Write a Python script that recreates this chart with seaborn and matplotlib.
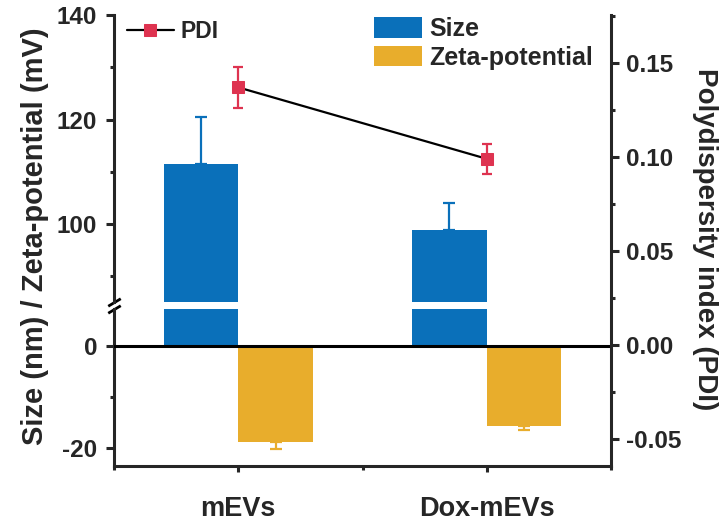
import matplotlib
matplotlib.use("Agg")
import matplotlib.pyplot as plt
from matplotlib.ticker import MultipleLocator, FormatStrFormatter
from matplotlib.container import BarContainer
import seaborn as sns
import pandas as pd

# ---- data ----
samples = ["mEVs", "Dox-mEVs"]
measures = ["Size", "Zeta-potential"]
size_mean = [111.5, 98.8]
size_sd = [8.9, 5.2]
zeta_mean = [-18.8, -15.7]
zeta_sd = [1.3, 0.8]
pdi_mean = [0.137, 0.099]
pdi_sd = [0.011, 0.008]

blue = "#0A70BA"
gold = "#E8AD2C"
red = "#DE3350"

sns.set_style("ticks")
plt.rcParams["font.family"] = ["Liberation Sans", "DejaVu Sans"]
plt.rcParams["font.weight"] = "bold"
plt.rcParams["axes.labelweight"] = "bold"
plt.rcParams["axes.unicode_minus"] = False

df = pd.DataFrame({
    "sample": samples * 2,
    "measure": [measures[0]] * 2 + [measures[1]] * 2,
    "value": size_mean + zeta_mean,
})

W, H = 723, 522
fig = plt.figure(figsize=(W / 100, H / 100), dpi=100)
L = 114 / W
AW = (611 - 114) / W
ax_up = fig.add_axes([L, 1 - 302 / H, AW, (302 - 15) / H])
ax_lo = fig.add_axes([L, 1 - 466 / H, AW, (466 - 309) / H])
ax_p = fig.add_axes([L, 1 - 466 / H, AW, (466 - 15) / H])
ax_p.patch.set_alpha(0)

pal = {measures[0]: blue, measures[1]: gold}
for ax in (ax_up, ax_lo):
    sns.barplot(data=df, x="sample", y="value", hue="measure", order=samples,
                hue_order=measures, palette=pal, errorbar=None, width=0.6,
                saturation=1, linewidth=0, legend=False, ax=ax)
    ax.set_xlim(-0.5, 1.5)
    ax.set_xlabel("")
    ax.set_ylabel("")

bars_up = [c for c in ax_up.containers if isinstance(c, BarContainer)]
bars_lo = [c for c in ax_lo.containers if isinstance(c, BarContainer)]

# error bars (one-sided, away from zero)
xs_size = [b.get_x() + b.get_width() / 2 for b in bars_up[0]]
ax_up.errorbar(xs_size, size_mean, yerr=[[0] * len(size_sd), size_sd], fmt="none",
               ecolor=blue, elinewidth=1.6, capsize=4, capthick=1.6)
xs_zeta = [b.get_x() + b.get_width() / 2 for b in bars_lo[1]]
ax_lo.errorbar(xs_zeta, zeta_mean, yerr=[zeta_sd, [0] * len(zeta_sd)], fmt="none",
               ecolor=gold, elinewidth=1.6, capsize=4, capthick=1.6)

ax_up.set_ylim(85.1, 140)
ax_lo.set_ylim(-23.5, 7.25)
ax_lo.axhline(0, color="black", lw=2.2, zorder=5)

for ax in (ax_up, ax_lo):
    ax.yaxis.set_major_locator(MultipleLocator(20))
    ax.yaxis.set_minor_locator(MultipleLocator(10))
    for s in ("top", "right"):
        ax.spines[s].set_visible(False)
    ax.spines["left"].set_linewidth(2.2)
    ax.tick_params(axis="y", which="major", direction="out", length=6, width=2.2,
                   labelsize=17.5, pad=6)
    ax.tick_params(axis="y", which="minor", direction="out", length=3, width=2.2)
    for t in ax.get_yticklabels():
        t.set_fontweight("bold")

ax_up.spines["bottom"].set_visible(False)
ax_up.tick_params(axis="x", which="both", bottom=False, labelbottom=False)

ax_lo.spines["bottom"].set_linewidth(2.2)
ax_lo.xaxis.set_minor_locator(MultipleLocator(0.5))
ax_lo.tick_params(axis="x", which="major", direction="out", length=4.5, width=2.2,
                  labelsize=19.5, pad=17)
ax_lo.tick_params(axis="x", which="minor", direction="out", length=3, width=2.2)
for t in ax_lo.get_xticklabels():
    t.set_fontweight("bold")

# break marks
kw = dict(marker=[(-1, -0.6), (1, 0.6)], markersize=9, linestyle="none",
          color="black", mec="black", mew=2, clip_on=False)
ax_up.plot([0], [0], transform=ax_up.transAxes, **kw)
ax_lo.plot([0], [1], transform=ax_lo.transAxes, **kw)

# PDI on right axis
sns.lineplot(x=samples, y=pdi_mean, sort=False, color="black", lw=1.6,
             marker="s", markersize=8, markerfacecolor=red, markeredgecolor=red,
             label="PDI", ax=ax_p, zorder=4)
ax_p.errorbar(samples, pdi_mean, yerr=pdi_sd, fmt="none", ecolor=red,
              elinewidth=1.6, capsize=3.5, capthick=1.6, zorder=5)
ax_p.set_xlim(-0.5, 1.5)
ax_p.set_ylim(-0.0644, 0.1755)
ax_p.yaxis.set_major_locator(MultipleLocator(0.05))
ax_p.yaxis.set_minor_locator(MultipleLocator(0.025))
ax_p.yaxis.tick_right()
ax_p.yaxis.set_major_formatter(FormatStrFormatter("%.2f"))
for s in ("left", "top", "bottom"):
    ax_p.spines[s].set_visible(False)
ax_p.spines["right"].set_linewidth(2.2)
ax_p.tick_params(axis="x", which="both", bottom=False, labelbottom=False)
ax_p.tick_params(axis="y", which="major", direction="out", length=6, width=2.2,
                 labelsize=17.5, pad=5)
ax_p.tick_params(axis="y", which="minor", direction="out", length=3, width=2.2)
for t in ax_p.get_yticklabels():
    t.set_fontweight("bold")
ax_p.set_xlabel("")
ax_p.set_ylabel("")

ax_p.legend(loc="upper left", bbox_to_anchor=(127 / W, 1 - 20 / H),
            bbox_transform=fig.transFigure, frameon=False,
            handlelength=2.05, handletextpad=0.3, borderpad=0, borderaxespad=0,
            prop={"weight": "bold", "size": 16.5})

handles = [c.patches[0] for c in bars_up]
fig.legend(handles, measures, loc="upper left", bbox_to_anchor=(374 / W, 1 - 17 / H),
           frameon=False, handlelength=1.9, handleheight=0.88, handletextpad=0.3,
           labelspacing=0.18, borderpad=0, borderaxespad=0,
           prop={"weight": "bold", "size": 18})

fig.text(35 / W, 1 - 236 / H, "Size (nm) / Zeta-potential (mV)", rotation=90,
         ha="center", va="center", fontsize=21, fontweight="bold")
fig.text(705 / W, 1 - 239 / H, "Polydispersity index (PDI)", rotation=270,
         ha="center", va="center", fontsize=20, fontweight="bold")

fig.savefig("out.png", dpi=100)
